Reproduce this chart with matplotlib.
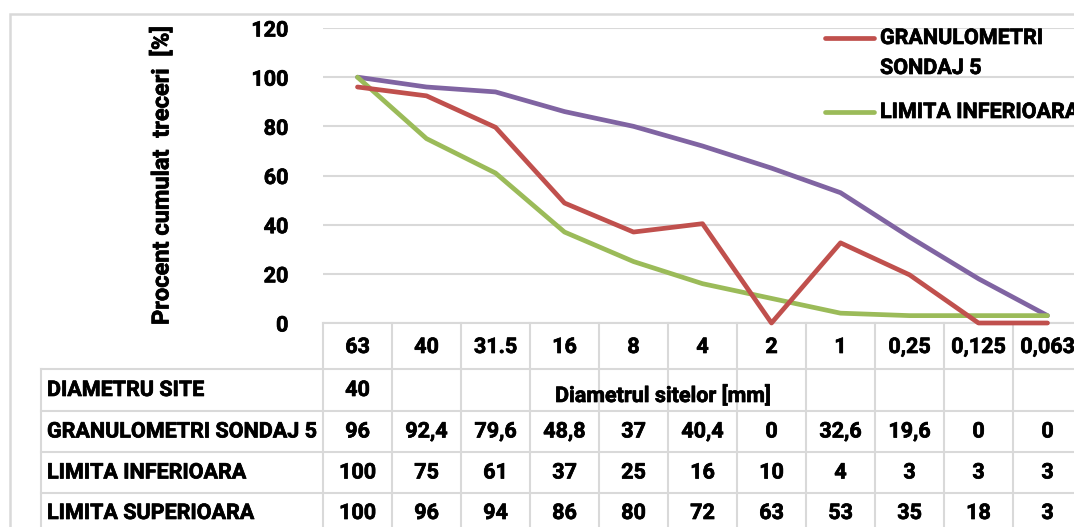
import matplotlib
matplotlib.use("Agg")
import matplotlib.pyplot as plt
import matplotlib.patheffects as pe
from matplotlib.lines import Line2D
from matplotlib.patches import Rectangle

# data
categories = ["63", "40", "31.5", "16", "8", "4", "2", "1", "0,25", "0,125", "0,063"]
diametru_site = [40]
granulometri = [96, 92.4, 79.6, 48.8, 37, 40.4, 0, 32.6, 19.6, 0, 0]
limita_inf = [100, 75, 61, 37, 25, 16, 10, 4, 3, 3, 3]
limita_sup = [100, 96, 94, 86, 80, 72, 63, 53, 35, 18, 3]

gran_txt = ["96", "92,4", "79,6", "48,8", "37", "40,4", "0", "32,6", "19,6", "0", "0"]
inf_txt = [str(v) for v in limita_inf]
sup_txt = [str(v) for v in limita_sup]
diam_txt = ["40"] + [""] * 10

RED = "#C0504D"
GREEN = "#9BBB59"
PURPLE = "#8064A2"
GRID = "#D9D9D9"
FS = 15.5
heavy = [pe.withStroke(linewidth=0.5, foreground="black")]
tkw = dict(fontsize=FS, fontweight="bold", path_effects=heavy)

plt.rcParams["font.family"] = ["Roboto", "DejaVu Sans"]
plt.rcParams["font.weight"] = "bold"

W, H = 1074, 527
fig = plt.figure(figsize=(W / 100, H / 100), dpi=100)

# plot area in pixels
x0, x1, y_top, y_bot = 323, 1082, 28, 323
ax = fig.add_axes([x0 / W, 1 - y_bot / H, (x1 - x0) / W, (y_bot - y_top) / H])

n = len(categories)
xs = list(range(n))
ax.plot(xs, limita_sup, color=PURPLE, lw=3.4, solid_capstyle="round", zorder=3, clip_on=False)
ax.plot(xs, limita_inf, color=GREEN, lw=3.4, solid_capstyle="round", zorder=4, clip_on=False)
ax.plot(xs, granulometri, color=RED, lw=3.4, solid_capstyle="round", zorder=5, clip_on=False)

ax.set_xlim(-0.5, n - 0.5)
ax.set_ylim(0, 120)
ax.set_yticks(range(0, 121, 20))
ax.set_xticks([])
ax.grid(axis="y", color=GRID, lw=1.5)
ax.set_axisbelow(True)
for s in ["left", "right", "top", "bottom"]:
    ax.spines[s].set_visible(False)
ax.tick_params(axis="y", length=0, pad=25, labelsize=FS)
for lab in ax.get_yticklabels():
    lab.set_fontweight("bold")
    lab.set_path_effects(heavy)
ax.set_ylabel("Procent cumulat  treceri  [%]", labelpad=56,
              fontsize=17, fontweight="bold", path_effects=heavy)


def yf(ypx):
    # pixel row -> axes fraction
    return (y_bot - ypx) / (y_bot - y_top)


trans = ax.get_xaxis_transform()
row_lines = [323, 369, 411, 452, 493, 540]
# horizontal table lines
ax.plot([-0.5, n - 0.5], [yf(323)] * 2, transform=trans, color=GRID, lw=1.5, clip_on=False)
lab_left = 41 / W
for yy in row_lines[1:]:
    fig.add_artist(Line2D([lab_left, 1.01], [1 - yy / H] * 2, transform=fig.transFigure,
                          color=GRID, lw=1.5))
# vertical table lines
for k in range(n + 1):
    ax.plot([k - 0.5] * 2, [yf(323), yf(540)], transform=trans, color=GRID, lw=1.5, clip_on=False)
fig.add_artist(Line2D([lab_left] * 2, [1 - 369 / H, 0], transform=fig.transFigure, color=GRID, lw=1.5))

# header row with categories
for i, c in enumerate(categories):
    ax.text(i, yf(347), c, transform=trans, ha="center", va="center", **tkw)

rows = [("DIAMETRU SITE", diam_txt), ("GRANULOMETRI SONDAJ 5", gran_txt),
        ("LIMITA INFERIOARA", inf_txt), ("LIMITA SUPERIOARA", sup_txt)]
for r, (name, vals) in enumerate(rows):
    yc = (row_lines[r + 1] + row_lines[r + 2]) / 2
    if r == 3:
        yc = 513
    fig.text(47 / W, 1 - yc / H, name, ha="left", va="center", **tkw)
    for i, v in enumerate(vals):
        ax.text(i, yf(yc), v, transform=trans, ha="center", va="center", **tkw)

# axis title overlapping the first table row
fig.text(663 / W, 1 - 396 / H, "Diametrul sitelor [mm]", ha="center", va="center", **tkw)

# legend (cut by the figure edge like the original)
fig.add_artist(Line2D([825 / W, 874 / W], [1 - 38 / H] * 2, transform=fig.transFigure,
                      color=RED, lw=3.4, solid_capstyle="round"))
fig.text(880 / W, 1 - 38 / H, "GRANULOMETRI", ha="left", va="center", **tkw)
fig.text(880 / W, 1 - 68 / H, "SONDAJ 5", ha="left", va="center", **tkw)
fig.add_artist(Line2D([825 / W, 874 / W], [1 - 112 / H] * 2, transform=fig.transFigure,
                      color=GREEN, lw=3.4, solid_capstyle="round"))
fig.text(880 / W, 1 - 112 / H, "LIMITA INFERIOARA", ha="left", va="center", **tkw)

# outer chart border
fig.add_artist(Rectangle((10 / W, -0.1), 1.1, 1 - 14 / H + 0.1, transform=fig.transFigure,
                         fill=False, edgecolor=GRID, lw=1.8))

fig.savefig("out.png", dpi=100)
